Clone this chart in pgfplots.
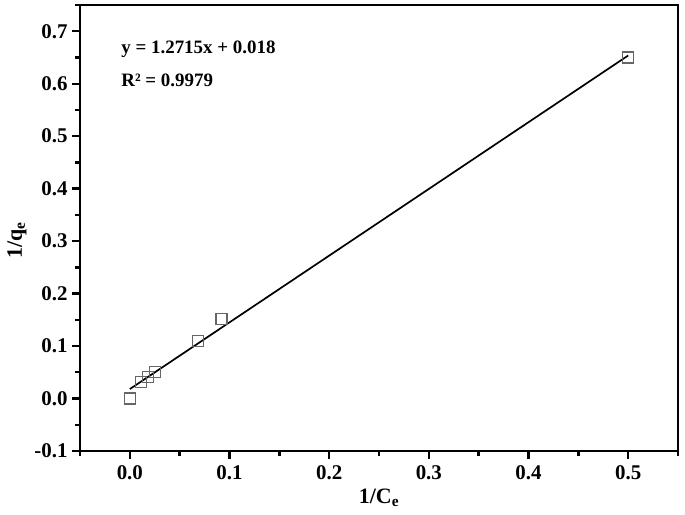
\documentclass[border=0pt]{standalone}
\usepackage{pgfplots}
\pgfplotsset{compat=1.18}
\usepackage{fontspec}
\setmainfont{Liberation Serif}
\begin{document}
\begin{tikzpicture}[x=1bp,y=1bp]
\begin{axis}[
  at={(80bp,64bp)}, anchor=south west,
  scale only axis,
  width=598bp, height=446bp,
  xmin=-0.05, xmax=0.55,
  ymin=-0.1, ymax=0.75,
  xtick={0,0.1,0.2,0.3,0.4,0.5},
  ytick={-0.1,0,0.1,0.2,0.3,0.4,0.5,0.6,0.7},
  minor xtick={-0.05,0.05,0.15,0.25,0.35,0.45,0.55},
  minor ytick={-0.05,0.05,0.15,0.25,0.35,0.45,0.55,0.65,0.75},
  xtick pos=bottom, ytick pos=left,
  tick align=outside,
  major tick length=8bp, minor tick length=5bp,
  every tick/.style={black, line width=2.4bp},
  axis line style={line width=2.8bp},
  xticklabel style={/pgf/number format/fixed, /pgf/number format/fixed zerofill, /pgf/number format/precision=1, yshift=-3bp},
  yticklabel style={/pgf/number format/fixed, /pgf/number format/fixed zerofill, /pgf/number format/precision=1, xshift=-1bp},
  /pgf/number format/assume math mode=true,
  ticklabel style={font=\fontsize{21}{24}\selectfont\bfseries},
  xlabel={1/C\textsubscript{e}},
  ylabel={1/q\textsubscript{e}},
  xlabel style={font=\fontsize{22}{24}\selectfont\bfseries, at={(axis description cs:0.5,0)}, anchor=base, yshift=-52bp},
  ylabel style={font=\fontsize{22}{24}\selectfont\bfseries, at={(axis description cs:-0.1054,0.473)}, anchor=center},
  clip=false,
]
\addplot[black, line width=1.7bp] coordinates {(0,0.018) (0.5,0.65375)};
\addplot[only marks, mark=square, mark size=5.5bp, mark options={draw=gray!80!black, line width=1.2bp}] coordinates {
(0,0) (0.011,0.031) (0.018,0.041) (0.025,0.05) (0.068,0.109) (0.092,0.152) (0.5,0.65)};
\node[anchor=west, font=\fontsize{19}{22}\selectfont\bfseries] at (axis cs:-0.012,0.666) {y = 1.2715x + 0.018};
\node[anchor=west, font=\fontsize{19}{22}\selectfont\bfseries] at (axis cs:-0.012,0.607) {R² = 0.9979};
\end{axis}
\pgfresetboundingbox
\path[use as bounding box] (0,0) rectangle (685bp,515bp);
\end{tikzpicture}
\end{document}
